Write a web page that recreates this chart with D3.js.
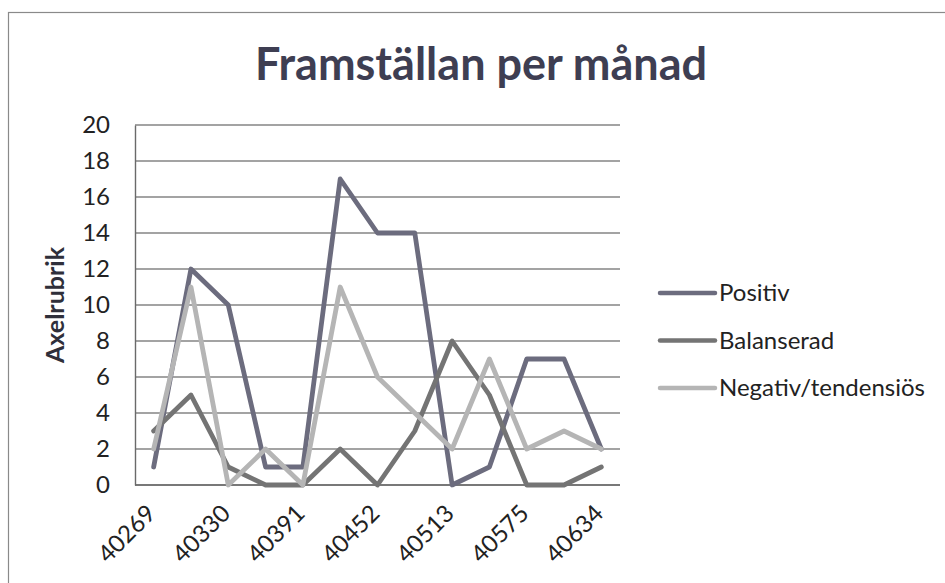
<!DOCTYPE html>
<html>
<head>
<meta charset="utf-8">
<script src="https://cdn.jsdelivr.net/npm/d3@7"></script>
<style>
  body { margin: 0; background: #fff; }
  svg { display: block; font-family: Lato, "Noto Sans", sans-serif; }
  .grid line { stroke: #858585; stroke-width: 1.4; }
  .axis path, .axis line { stroke: #6a6a6a; stroke-width: 1.4; }
  .axis text { fill: #222; font-size: 24px; font-family: Lato, "Noto Sans", sans-serif; }
  .series { fill: none; stroke-width: 4.8; stroke-linejoin: round; stroke-linecap: round; }
</style>
</head>
<body>
<svg id="chart" width="945" height="583"></svg>
<script>
// Excel date serials, one per month (Apr 2010 - Apr 2011)
var months = [40269, 40299, 40330, 40360, 40391, 40422, 40452, 40483, 40513, 40544, 40575, 40603, 40634];
var tickLabels = [40269, 40330, 40391, 40452, 40513, 40575, 40634];
var yTicks = [0, 2, 4, 6, 8, 10, 12, 14, 16, 18, 20];

var positiv    = [1, 12, 10, 1, 1, 17, 14, 14, 0, 1, 7, 7, 2];
var balanserad = [3, 5, 1, 0, 0, 2, 0, 3, 8, 5, 0, 0, 1];
var negativ    = [2, 11, 0, 2, 0, 11, 6, 4, 2, 7, 2, 3, 2];

var seriesNames = ["Positiv", "Balanserad", "Negativ/tendensiös"];
var seriesColors = ["#6c6c7e", "#747474", "#b5b5b5"];

var series = [positiv, balanserad, negativ].map(function(vals, i){
  return { name: seriesNames[i], color: seriesColors[i],
           values: vals.map(function(v, j){ return { m: months[j], v: v }; }) };
});

var plot = {left: 135, top: 125, right: 620, bottom: 485};

var svg = d3.select("#chart");

// chart area border
svg.append("rect")
  .attr("x", 8.5).attr("y", 12.5)
  .attr("width", 960).attr("height", 600)
  .attr("fill", "none")
  .attr("stroke", "#8a8a8a")
  .attr("stroke-width", 1.2);

var xScale = d3.scalePoint()
      .domain(months)
      .range([plot.left, plot.right])
      .padding(0.5),
    yScale = d3.scaleLinear()
      .domain([0, 20])
      .range([plot.bottom, plot.top]);

// gridlines
svg.append("g")
  .attr("class", "grid")
  .selectAll("line")
    .data(yTicks).enter()
    .append("line")
      .attr("x1", plot.left)
      .attr("x2", plot.right)
      .attr("y1", function(d){ return yScale(d); })
      .attr("y2", function(d){ return yScale(d); });

var yAxis = d3.axisLeft(yScale)
  .tickValues(yTicks)
  .tickSize(0)
  .tickPadding(25);

svg.append("g")
  .attr("class", "axis axis-y")
  .attr("transform", "translate(" + plot.left + ",0)")
  .call(yAxis);

var xAxis = d3.axisBottom(xScale)
  .tickValues(tickLabels)
  .tickSize(0)
  .tickSizeOuter(0);

svg.append("g")
  .attr("class", "axis axis-x")
  .attr("transform", "translate(0," + plot.bottom + ")")
  .call(xAxis)
  .selectAll("text")
    .attr("text-anchor", "end")
    .attr("dy", null)
    .attr("y", 0)
    .attr("transform", "translate(3,30) rotate(-45)");

// keep x axis line across full plot width
svg.select(".axis-x .domain")
  .attr("d", "M" + plot.left + ",0H" + plot.right);

// axis title
svg.append("text")
  .attr("transform", "translate(64," + 305 + ") rotate(-90)")
  .attr("text-anchor", "middle")
  .style("font-size", "25px")
  .style("font-weight", "bold")
  .attr("fill", "#2f2f3a")
  .text("Axelrubrik");

// chart title
svg.append("text")
  .attr("x", 481)
  .attr("y", 80)
  .attr("text-anchor", "middle")
  .style("font-size", "45px")
  .style("font-weight", "bold")
  .attr("fill", "#3e3e52")
  .text("Framställan per månad");

var line = d3.line()
  .x(function(d){ return xScale(d.m); })
  .y(function(d){ return yScale(d.v); });

svg.append("g")
  .selectAll("path")
    .data(series).enter()
    .append("path")
      .attr("class", "series")
      .attr("stroke", function(d){ return d.color; })
      .attr("d", function(d){ return line(d.values); });

// legend
var legend = svg.append("g")
  .attr("transform", "translate(660,293)");

var items = legend.selectAll("g")
  .data(series).enter()
  .append("g")
    .attr("transform", function(d, i){ return "translate(0," + (i * 47.5) + ")"; });

items.append("line")
  .attr("x1", 0).attr("x2", 55)
  .attr("stroke", function(d){ return d.color; })
  .attr("stroke-width", 4.5)
  .attr("stroke-linecap", "round");

items.append("text")
  .attr("x", 59)
  .attr("dy", "0.35em")
  .style("font-size", "24px")
  .attr("fill", "#222")
  .text(function(d){ return d.name; });
</script>
</body>
</html>
